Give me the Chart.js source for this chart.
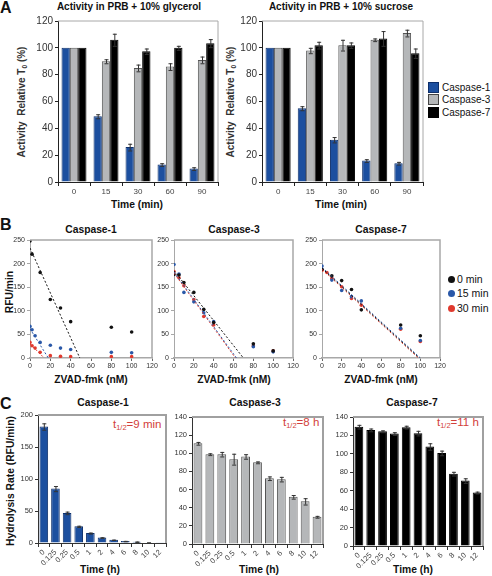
<!DOCTYPE html>
<html>
<head>
<meta charset="utf-8">
<script src="https://cdn.jsdelivr.net/npm/chart.js@4.4.0/dist/chart.umd.min.js"></script>
<style>
body{margin:0;width:492px;height:576px;background:#fff;position:relative;overflow:hidden;font-family:"Liberation Sans",Arial,sans-serif;}
.t{position:absolute;white-space:nowrap;color:#111;line-height:1;}
.c{transform:translate(-50%,-50%);}
.r{transform:translate(-50%,-50%) rotate(-90deg);}
.lab{font-size:16px;font-weight:bold;}
.ttl{font-size:10.3px;font-weight:bold;}
sub{font-size:65%;vertical-align:-2px;}
.half{color:#d2403a;font-size:11.5px;transform:translateY(-50%);}
.leg{position:absolute;font-size:10px;line-height:1;color:#111;white-space:nowrap;}
.sw{display:inline-block;width:11px;height:11px;vertical-align:-2px;margin-right:3px;box-sizing:border-box;}
.dot{display:inline-block;width:7px;height:7px;border-radius:50%;margin-right:2px;vertical-align:0;}
canvas{position:absolute;}
</style>
</head>
<body>
<div class="t lab" style="left:0;top:0">A</div>
<div class="t ttl c" style="left:129px;top:7px;font-size:10px">Activity in PRB + 10% glycerol</div>
<div class="t ttl c" style="left:341px;top:7px;font-size:10px">Activity in PRB + 10% sucrose</div>
<div class="t r" style="left:23px;top:102px;font-size:10px;font-weight:bold;color:#333">Activity&nbsp; Relative T<sub>0</sub> (%)</div>
<div class="t r" style="left:232px;top:102px;font-size:10px;font-weight:bold;color:#333">Activity&nbsp; Relative T<sub>0</sub> (%)</div>
<div class="t ttl c" style="left:137px;top:205px">Time (min)</div>
<div class="t ttl c" style="left:341px;top:205px">Time (min)</div>
<div class="leg" style="left:428px;top:82px"><span class="sw" style="background:#1c4f9f;border:1px solid #0e2f6a"></span>Caspase-1</div>
<div class="leg" style="left:428px;top:94px"><span class="sw" style="background:#b5b7b9;border:1px solid #444"></span>Caspase-3</div>
<div class="leg" style="left:428px;top:107px"><span class="sw" style="background:#000;border:1px solid #000"></span>Caspase-7</div>

<div class="t lab" style="left:0;top:217px">B</div>
<div class="t ttl c" style="left:91px;top:230px">Caspase-1</div>
<div class="t ttl c" style="left:234px;top:230px">Caspase-3</div>
<div class="t ttl c" style="left:381px;top:230px">Caspase-7</div>
<div class="t ttl r" style="left:10px;top:292px">RFU/min</div>
<div class="t ttl c" style="left:91px;top:380px">ZVAD-fmk (nM)</div>
<div class="t ttl c" style="left:234px;top:380px">ZVAD-fmk (nM)</div>
<div class="t ttl c" style="left:381px;top:380px">ZVAD-fmk (nM)</div>
<div class="leg" style="left:448px;top:274px;font-size:10.5px"><span class="dot" style="background:#111"></span>0 min</div>
<div class="leg" style="left:448px;top:288px;font-size:10.5px"><span class="dot" style="background:#2a58a8"></span>15 min</div>
<div class="leg" style="left:448px;top:303px;font-size:10.5px"><span class="dot" style="background:#e03a2e"></span>30 min</div>

<div class="t lab" style="left:0;top:396px">C</div>
<div class="t ttl c" style="left:103px;top:403px">Caspase-1</div>
<div class="t ttl c" style="left:255px;top:403px">Caspase-3</div>
<div class="t ttl c" style="left:412px;top:403px">Caspase-7</div>
<div class="t ttl r" style="left:11px;top:481px">Hydrolysis Rate (RFU/min)</div>
<div class="t half" style="left:113px;top:425px">t<sub>1/2</sub>=9 min</div>
<div class="t half" style="left:283px;top:423px">t<sub>1/2</sub>=8 h</div>
<div class="t half" style="left:437px;top:423px">t<sub>1/2</sub>=11 h</div>
<div class="t ttl c" style="left:100px;top:570px">Time (h)</div>
<div class="t ttl c" style="left:259px;top:570px">Time (h)</div>
<div class="t ttl c" style="left:413px;top:570px">Time (h)</div>

<script>
// ---- panel A: activity relative to T0 (%) ----
var timeMin = ['0', '15', '30', '60', '90'];
var glyCasp1 = [100, 49, 26, 13, 10];
var glyCasp1Err = [0, 1.5, 2.5, 1, 1];
var glyCasp3 = [100, 90, 85, 86, 91];
var glyCasp3Err = [0, 1.5, 2.5, 2.5, 2.5];
var glyCasp7 = [100, 106, 97.5, 100, 103.5];
var glyCasp7Err = [0, 4.5, 2, 1.5, 3];
var sucCasp1 = [100, 55, 31.5, 16, 14];
var sucCasp1Err = [0, 1.5, 2, 1, 1];
var sucCasp3 = [100, 98, 102, 106, 111];
var sucCasp3Err = [0, 2, 4, 1, 2.5];
var sucCasp7 = [100, 102, 102, 107, 96];
var sucCasp7Err = [0, 2.5, 2, 5.5, 3.5];

// ---- panel B: RFU/min vs ZVAD-fmk (nM) ----
var c1Min0 = [[0,248],[2,220],[10,181],[20,124],[30,106],[40,77],[80,65],[100,55]];
var c1Min15 = [[0,67],[2,60],[5,47],[10,33],[20,27],[30,21],[40,18],[80,12],[100,11]];
var c1Min30 = [[0,33],[2,26],[5,21],[10,12],[20,5],[30,3.5],[40,3],[80,3],[100,3]];
var c1Fit0 = [[0,233],[49,0]];
var c1Fit15 = [[0,62],[18,0]];
var c1Fit30 = [[0,30],[14,0]];

var c3Min0 = [[0,177],[5,176],[10,160],[20,139],[30,103],[40,75],[80,30],[100,15]];
var c3Min15 = [[0,198],[5,178],[10,139],[20,119],[30,96],[40,77],[80,24],[100,13]];
var c3Min30 = [[0,183],[5,170],[10,153],[20,124],[30,88],[40,70],[80,26],[100,15]];
var c3Fit0 = [[0,185],[70,0]];
var c3Fit15 = [[0,182],[63,0]];
var c3Fit30 = [[0,180],[62,0]];

var c7Min0 = [[0,188],[10,174],[20,164],[30,145],[40,102],[80,70],[100,47]];
var c7Min15 = [[0,195],[10,165],[20,143],[30,130],[40,121],[80,63],[100,37]];
var c7Min30 = [[0,186],[5,181],[10,169],[20,151],[30,126],[40,112],[80,61],[100,35]];
var c7Fit0 = [[0,190],[99,0]];
var c7Fit15 = [[0,192],[100,0]];
var c7Fit30 = [[0,188],[98,0]];

// ---- panel C: hydrolysis rate over time ----
var timeH = ['0', '0.125', '0.25', '0.5', '1', '2', '4', '6', '8', '10', '12'];
var rateCasp1 = [182, 85, 47, 26, 15.5, 8.5, 5, 3, 2, 0.8, 0.3];
var rateCasp1Err = [5, 4, 2, 1, 0.8, 0.5, 0.3, 0.3, 0.3, 0.1, 0];
var rateCasp3 = [111, 99, 99, 93.5, 96.5, 90, 72.5, 71.5, 52, 47, 30];
var rateCasp3Err = [1.5, 1, 2.5, 6, 2.5, 1, 2, 2.5, 2, 3.5, 1];
var rateCasp7 = [129.5, 126, 124.5, 122, 129, 122.5, 108, 101, 78.5, 71, 58];
var rateCasp7Err = [2, 1.5, 1, 1.5, 1.5, 2.5, 3.5, 2.5, 2, 2.5, 1];

var BLUE = '#1c4f9f', BLUE_EDGE = '#0e2f6a';
var GREY = '#b5b7b9', GREY_EDGE = '#555';
var BLACK = '#000';
var PT_BLACK = '#111', PT_BLUE = '#2a58a8', PT_RED = '#e03a2e';

Chart.defaults.font.family = '"Liberation Sans", Arial, sans-serif';
Chart.defaults.animation = false;
Chart.defaults.plugins.legend.display = false;
Chart.defaults.plugins.tooltip.enabled = false;

var errorBars = {
    id: 'errorBars',
    afterDatasetsDraw(chart) {
        var ctx = chart.ctx, y = chart.scales.y;
        chart.data.datasets.forEach((ds, i) => {
            if (!ds.errors) return;
            chart.getDatasetMeta(i).data.forEach((bar, j) => {
                var e = ds.errors[j];
                if (!e) return;
                var top = y.getPixelForValue(ds.data[j] + e);
                var bot = y.getPixelForValue(ds.data[j] - e);
                ctx.save();
                ctx.strokeStyle = '#333';
                ctx.lineWidth = 1;
                ctx.beginPath();
                ctx.moveTo(bar.x + 0.5, top); ctx.lineTo(bar.x + 0.5, bot);
                ctx.moveTo(bar.x - 1.5, top + 0.5); ctx.lineTo(bar.x + 2.5, top + 0.5);
                ctx.moveTo(bar.x - 1.5, bot + 0.5); ctx.lineTo(bar.x + 2.5, bot + 0.5);
                ctx.stroke();
                ctx.restore();
            });
        });
    }
};

var frame = {
    id: 'frame',
    afterDraw(chart, args, opts) {
        var a = chart.chartArea, ctx = chart.ctx;
        ctx.save();
        ctx.strokeStyle = opts.color || '#a0a0a0';
        ctx.lineWidth = opts.width || 1;
        ctx.beginPath();
        ctx.moveTo(a.left, a.top);
        ctx.lineTo(a.right, a.top);
        ctx.lineTo(a.right, a.bottom);
        ctx.stroke();
        ctx.restore();
    }
};

// canvas is sized so the plot area lands on the given box
function makeCanvas(box, yW, xH) {
    var pad = 12;
    var c = document.createElement('canvas');
    c.width = box.w + yW + 2 * pad;
    c.height = box.h + xH + 2 * pad;
    c.style.left = (box.l - yW - pad) + 'px';
    c.style.top = (box.t - pad) + 'px';
    document.body.appendChild(c);
    return c;
}

function yAxis(min, max, step, w, size, axisColor) {
    return {
        min: min, max: max,
        ticks: { stepSize: step, color: '#333', font: { size: size }, padding: 2 },
        grid: { drawOnChartArea: false, tickLength: 3, color: axisColor, tickColor: axisColor },
        border: { color: axisColor, width: 1 },
        afterFit: s => { s.width = w; }
    };
}

function catAxis(h, size, rot, axisColor) {
    return {
        ticks: { color: '#444', font: { size: size }, padding: 1, autoSkip: false, maxRotation: rot, minRotation: rot },
        grid: { drawOnChartArea: false, tickLength: 4, offset: true, color: axisColor, tickColor: axisColor },
        border: { color: axisColor, width: 1 },
        afterFit: s => { s.height = h; }
    };
}

function barSet(label, data, errs, fill, edge, pct) {
    return {
        label: label, data: data, errors: errs,
        backgroundColor: fill, borderColor: edge, borderWidth: 1,
        categoryPercentage: pct, barPercentage: 1
    };
}

function activityChart(box, c1, e1, c3, e3, c7, e7) {
    new Chart(makeCanvas(box, 28, 16), {
        type: 'bar',
        data: {
            labels: timeMin,
            datasets: [
                barSet('Caspase-1', c1, e1, BLUE, BLUE_EDGE, 0.78),
                barSet('Caspase-3', c3, e3, GREY, GREY_EDGE, 0.78),
                barSet('Caspase-7', c7, e7, BLACK, BLACK, 0.78)
            ]
        },
        options: {
            responsive: false,
            layout: { padding: 12 },
            scales: { x: catAxis(16, 8, 0, '#222'), y: yAxis(0, 120, 20, 28, 10, '#222') },
            plugins: { frame: { color: '#a8a8a8', width: 1 } }
        },
        plugins: [errorBars, frame]
    });
}

activityChart({ l: 58, t: 21, w: 160, h: 161 }, glyCasp1, glyCasp1Err, glyCasp3, glyCasp3Err, glyCasp7, glyCasp7Err);
activityChart({ l: 262, t: 21, w: 161, h: 161 }, sucCasp1, sucCasp1Err, sucCasp3, sucCasp3Err, sucCasp7, sucCasp7Err);

function pts(arr) { return arr.map(p => ({ x: p[0], y: p[1] })); }

function dots(data, color) {
    return { data: pts(data), backgroundColor: color, borderColor: color, pointRadius: 1.8, pointBorderWidth: 0, showLine: false };
}
function fit(data, color) {
    return { data: pts(data), borderColor: color, borderWidth: 1, borderDash: [2, 2], pointRadius: 0, showLine: true, fill: false };
}

function inhibitionChart(box, m0, m15, m30, f0, f15, f30) {
    new Chart(makeCanvas(box, 22, 14), {
        type: 'scatter',
        data: {
            datasets: [
                fit(f0, PT_BLACK), fit(f15, PT_BLUE), fit(f30, PT_RED),
                dots(m0, PT_BLACK), dots(m15, PT_BLUE), dots(m30, PT_RED)
            ]
        },
        options: {
            responsive: false,
            layout: { padding: 12 },
            scales: {
                x: {
                    type: 'linear', min: 0, max: 120,
                    ticks: { stepSize: 20, color: '#333', font: { size: 7 }, padding: 1 },
                    grid: { drawOnChartArea: false, tickLength: 3, color: '#999', tickColor: '#666' },
                    border: { color: '#a8a8a8', width: 1.5 },
                    afterFit: s => { s.height = 14; }
                },
                y: yAxis(0, 250, 50, 22, 7, '#a8a8a8')
            },
            plugins: { frame: { color: '#a8a8a8', width: 1.5 } }
        },
        plugins: [frame]
    });
}

inhibitionChart({ l: 30, t: 240, w: 122, h: 118 }, c1Min0, c1Min15, c1Min30, c1Fit0, c1Fit15, c1Fit30);
inhibitionChart({ l: 174, t: 240, w: 119, h: 118 }, c3Min0, c3Min15, c3Min30, c3Fit0, c3Fit15, c3Fit30);
inhibitionChart({ l: 322, t: 240, w: 118, h: 118 }, c7Min0, c7Min15, c7Min30, c7Fit0, c7Fit15, c7Fit30);

function stabilityChart(box, data, errs, fill, edge, max, step) {
    new Chart(makeCanvas(box, 26, 28), {
        type: 'bar',
        data: { labels: timeH, datasets: [barSet('rate', data, errs, fill, edge, 0.74)] },
        options: {
            responsive: false,
            layout: { padding: 12 },
            scales: { x: catAxis(28, 7.5, 45, '#333'), y: yAxis(0, max, step, 26, 7.5, '#333') },
            plugins: { frame: { color: '#a0a0a0', width: 2 } }
        },
        plugins: [errorBars, frame]
    });
}

stabilityChart({ l: 38, t: 415, w: 128, h: 128 }, rateCasp1, rateCasp1Err, BLUE, BLUE_EDGE, 200, 50);
stabilityChart({ l: 192, t: 417, w: 131, h: 127 }, rateCasp3, rateCasp3Err, GREY, GREY_EDGE, 140, 20);
stabilityChart({ l: 353, t: 417, w: 130, h: 129 }, rateCasp7, rateCasp7Err, BLACK, BLACK, 140, 20);
</script>
</body>
</html>
